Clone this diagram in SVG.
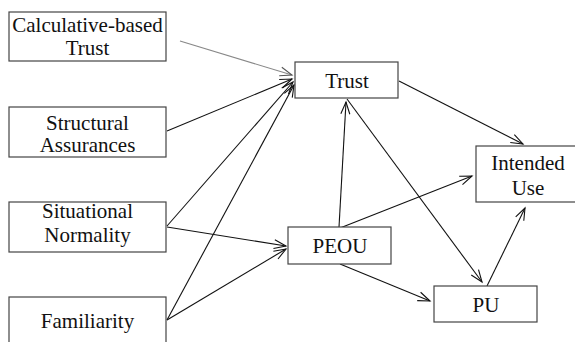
<svg xmlns="http://www.w3.org/2000/svg" width="575" height="342" viewBox="0 0 575 342">
<style>
.box{fill:#fff;stroke:#444;stroke-width:1.2}
.t{font-family:"Liberation Serif","Times New Roman",serif;font-size:21px;fill:#111;text-anchor:middle}
.c{fill:none;stroke:#111;stroke-width:1.1}
.g{stroke:#888}
</style>
<defs>
<marker id="ah" viewBox="-13 -6 15 12" refX="0" refY="0" markerWidth="15" markerHeight="12" markerUnits="userSpaceOnUse" orient="auto">
<path d="M-12,-4.5 L0,0 L-12,4.5" fill="none" stroke="#111" stroke-width="1.1"/>
</marker>
<marker id="ahg" viewBox="-13 -6 15 12" refX="0" refY="0" markerWidth="15" markerHeight="12" markerUnits="userSpaceOnUse" orient="auto">
<path d="M-12,-4.5 L0,0 L-12,4.5" fill="none" stroke="#555" stroke-width="1.1"/>
</marker>
</defs>
<rect width="575" height="342" fill="#fff"/>
<g id="connectors">
<line class="c g" x1="180" y1="41" x2="292" y2="75" marker-end="url(#ahg)"/>
<line class="c" x1="167" y1="131" x2="292" y2="79" marker-end="url(#ah)"/>
<line class="c" x1="167" y1="226" x2="293" y2="82" marker-end="url(#ah)"/>
<line class="c" x1="167" y1="320" x2="294" y2="85" marker-end="url(#ah)"/>
<line class="c" x1="167" y1="227" x2="286" y2="246" marker-end="url(#ah)"/>
<line class="c" x1="167" y1="320" x2="286" y2="249" marker-end="url(#ah)"/>
<line class="c" x1="339" y1="227" x2="346" y2="102" marker-end="url(#ah)"/>
<line class="c" x1="399" y1="81" x2="523" y2="144" marker-end="url(#ah)"/>
<line class="c" x1="347" y1="99" x2="482" y2="282" marker-end="url(#ah)"/>
<line class="c" x1="340" y1="228" x2="472" y2="176" marker-end="url(#ah)"/>
<line class="c" x1="340" y1="264" x2="430" y2="301" marker-end="url(#ah)"/>
<line class="c" x1="487" y1="286" x2="525" y2="208" marker-end="url(#ah)"/>
</g>
<g id="calc">
<rect class="box" x="9" y="12" width="157" height="49"/>
<text class="t" x="87.5" y="32">Calculative-based</text>
<text class="t" x="87.5" y="55">Trust</text>
</g>
<g id="structural">
<rect class="box" x="9" y="107" width="157" height="50"/>
<text class="t" x="87.5" y="130">Structural</text>
<text class="t" x="87.5" y="152">Assurances</text>
</g>
<g id="situational">
<rect class="box" x="9" y="202" width="157" height="50"/>
<text class="t" x="87.5" y="218">Situational</text>
<text class="t" x="87.5" y="242">Normality</text>
</g>
<g id="familiarity">
<rect class="box" x="9" y="297" width="157" height="50"/>
<text class="t" x="87.5" y="328">Familiarity</text>
</g>
<g id="trust">
<rect class="box" x="295" y="62" width="103" height="36"/>
<text class="t" x="347" y="88">Trust</text>
</g>
<g id="peou">
<rect class="box" x="288" y="227" width="103" height="37"/>
<text class="t" x="340" y="253">PEOU</text>
</g>
<g id="pu">
<rect class="box" x="434" y="286" width="103" height="36"/>
<text class="t" x="486" y="312">PU</text>
</g>
<g id="intended">
<rect class="box" x="476" y="146" width="102" height="56"/>
<text class="t" x="528" y="170">Intended</text>
<text class="t" x="528" y="195">Use</text>
</g>
</svg>
